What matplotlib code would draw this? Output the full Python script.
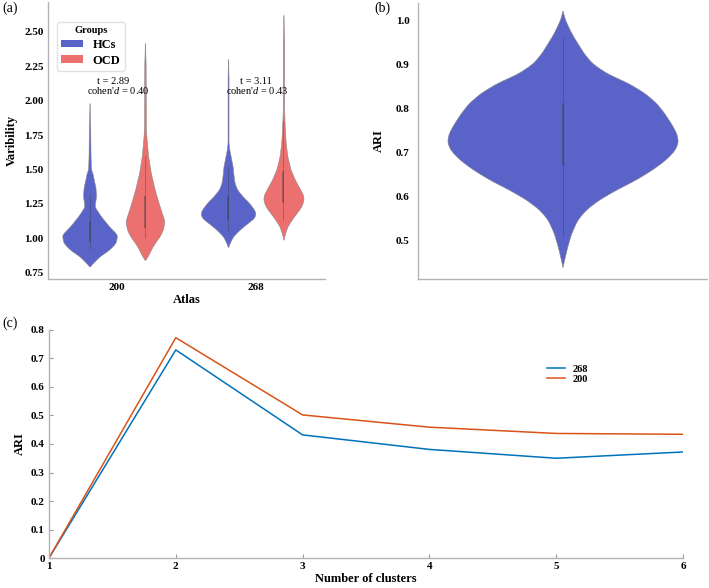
import numpy as np
import matplotlib
matplotlib.use("Agg")
import matplotlib.pyplot as plt
from matplotlib.patches import Patch

plt.rcParams['font.family'] = 'serif'
plt.rcParams['font.serif'] = ['Liberation Serif', 'DejaVu Serif']
plt.rcParams['mathtext.fontset'] = 'custom'
plt.rcParams['mathtext.it'] = 'Liberation Serif:italic'
plt.rcParams['mathtext.rm'] = 'Liberation Serif'

#
# (a) variability violins, profiles
# each violin: y levels and relative density (half width)
#
atlases = ["200", "268"]
groups = ["HCs", "OCD"]

hc200_y = [0.796, 0.820, 0.868, 0.917, 0.966, 1.026, 1.086, 1.159, 1.231, 1.304,
           1.377, 1.401, 1.474, 1.498, 1.600, 1.800, 1.982]
hc200_d = [0, 3.3, 10, 20, 26.7, 28.3, 20, 11.7, 5, 6.7, 6, 5, 3, 1.5, 1, 0.7, 0]

ocd200_y = [0.844, 0.868, 0.917, 0.966, 1.014, 1.062, 1.122, 1.183, 1.256, 1.353,
            1.474, 1.594, 1.716, 1.788, 2.030, 2.273, 2.418]
ocd200_d = [0, 2.7, 6, 10, 15, 18.3, 20, 17.3, 14, 10, 6, 3.3, 1.7, 1, 0.8, 0.7, 0]

hc268_y = [0.937, 0.966, 1.014, 1.062, 1.111, 1.147, 1.183, 1.207, 1.256, 1.304,
           1.353, 1.401, 1.449, 1.522, 1.594, 1.643, 1.692, 2.175, 2.302]
hc268_d = [0, 1.7, 5, 11.7, 20, 26.7, 28.3, 26.7, 21.7, 15, 9.3, 6.7, 5.7, 4.7,
           2.7, 1.3, 0.5, 0.5, 0]

ocd268_y = [0.990, 1.038, 1.086, 1.135, 1.183, 1.231, 1.280, 1.316, 1.353, 1.425,
            1.498, 1.594, 1.692, 1.812, 1.934, 2.418, 2.623]
ocd268_d = [0, 1.7, 4, 8.3, 13.3, 18.3, 20.7, 20, 17.3, 11.7, 7.3, 4, 2.3, 1.3,
            0.7, 0.7, 0]

# whisker low/high, quartile low/high
hc200_box = [0.92, 1.32, 0.98, 1.12]
ocd200_box = [1.00, 1.60, 1.08, 1.30]
hc268_box = [1.05, 1.52, 1.13, 1.30]
ocd268_box = [1.13, 1.85, 1.26, 1.48]

t_values = ["2.89", "3.11"]
d_values = ["0.40", "0.43"]

#
# (b) ARI violin
#
ari_y = [0.441, 0.486, 0.517, 0.547, 0.570, 0.593, 0.615, 0.638, 0.661, 0.683,
         0.706, 0.725, 0.744, 0.767, 0.790, 0.812, 0.835, 0.858, 0.880, 0.903,
         0.926, 0.956, 0.971, 0.985, 1.002, 1.022]
ari_d = [0, 4.7, 8.7, 14.7, 23, 36.3, 53, 73, 89.7, 103, 113, 116.3, 114.7, 109,
         102.3, 94.7, 83, 66.3, 44.7, 29.7, 21.3, 13, 9, 6, 2.5, 0]
ari_box = [0.51, 0.96, 0.672, 0.81]

#
# (c) ARI vs number of clusters
#
n_clusters = [1, 2, 3, 4, 5, 6]
ari_268 = [0, 0.730, 0.432, 0.381, 0.350, 0.372]
ari_200 = [0, 0.773, 0.502, 0.459, 0.437, 0.434]

c_hc = "#5a63c8"
c_ocd = "#ec7070"
spine_c = "#b3b3b3"


def draw_violin(ax, pos, ys, dens, scale, color, box, smooth):
    # resample the read profile and soften the corners a little
    ys = np.asarray(ys)
    grid = np.linspace(ys[0], ys[-1], 600)
    half = np.interp(grid, ys, np.asarray(dens) * scale)
    k = np.exp(-0.5 * (np.arange(-60, 61) * (grid[1] - grid[0]) / smooth) ** 2)
    k /= k.sum()
    half = np.convolve(np.pad(half, 60, mode="constant"), k, mode="same")[60:-60]
    ax.fill_betweenx(grid, pos - half, pos + half, facecolor=color,
                     edgecolor="#8a8a8a", linewidth=0.4, zorder=2)
    ax.plot([pos, pos], box[0:2], color="#3a3a3a", lw=0.5, alpha=0.5, zorder=3)
    ax.plot([pos, pos], box[2:4], color="#3a3a3a", lw=1.2, alpha=0.5, zorder=3)


def style_spines(ax):
    for s in ["top", "right"]:
        ax.spines[s].set_visible(False)
    for s in ["left", "bottom"]:
        ax.spines[s].set_color(spine_c)
        ax.spines[s].set_linewidth(1.0)


fig = plt.figure(figsize=(7.09, 5.88), dpi=100)

# ---------------- (a)
ax_a = fig.add_axes([0.0677, 0.5255, 0.3907, 0.471])
sc_a = 0.2 / 28.3
violins = [(hc200_y, hc200_d, hc200_box), (ocd200_y, ocd200_d, ocd200_box),
           (hc268_y, hc268_d, hc268_box), (ocd268_y, ocd268_d, ocd268_box)]
for i, (ys, ds, bx) in enumerate(violins):
    cat = i // 2
    off = -0.2 if i % 2 == 0 else 0.2
    col = c_hc if i % 2 == 0 else c_ocd
    draw_violin(ax_a, cat + off, ys, ds, sc_a, col, bx, 0.012)

for k in range(len(atlases)):
    ax_a.text(k - 0.03 + 0.03 * k, 2.137, "t = " + t_values[k], ha="center",
              va="center", fontsize=7.5, zorder=4)
    ax_a.text(k + 0.01, 2.072, "cohen'$d$ = " + d_values[k], ha="center",
              va="center", fontsize=7.5, zorder=4)

ax_a.set_xlim(-0.5, 1.5)
ax_a.set_ylim(0.704, 2.716)
ax_a.set_xticks(range(len(atlases)))
ax_a.set_xticklabels(atlases)
ax_a.set_yticks([0.75, 1.0, 1.25, 1.5, 1.75, 2.0, 2.25, 2.5])
ax_a.set_yticklabels(["%.2f" % v for v in ax_a.get_yticks()])
ax_a.tick_params(length=0, labelsize=8, pad=3)
for lab in ax_a.get_xticklabels() + ax_a.get_yticklabels():
    lab.set_fontweight("bold")
ax_a.set_xlabel("Atlas", fontsize=9, fontweight="bold", labelpad=1)
ax_a.set_ylabel("Varibility", fontsize=9, fontweight="bold", labelpad=5)
style_spines(ax_a)
handles = [Patch(facecolor=c_hc, edgecolor="none", label=groups[0]),
           Patch(facecolor=c_ocd, edgecolor="none", label=groups[1])]
leg = ax_a.legend(handles=handles, title="Groups", loc="upper left",
                  bbox_to_anchor=(0.031, 0.929), borderaxespad=0,
                  title_fontsize=7.5, handlelength=1.8, handleheight=0.55,
                  handletextpad=0.75, borderpad=0.35, labelspacing=0.3,
                  framealpha=1, edgecolor="#e2e2e2",
                  prop={"weight": "bold", "size": 9})
leg.get_title().set_fontweight("bold")

# ---------------- (b)
ax_b = fig.add_axes([0.5896, 0.5255, 0.4076, 0.4695])
draw_violin(ax_b, 0, ari_y, ari_d, 0.4 / 116.3, c_hc, ari_box, 0.006)
ax_b.set_xlim(-0.5, 0.5)
ax_b.set_ylim(0.413, 1.040)
ax_b.set_xticks([])
ax_b.set_yticks([0.5, 0.6, 0.7, 0.8, 0.9, 1.0])
ax_b.set_yticklabels(["%.1f" % v for v in ax_b.get_yticks()])
ax_b.tick_params(length=0, labelsize=8, pad=6)
for lab in ax_b.get_yticklabels():
    lab.set_fontweight("bold")
ax_b.set_ylabel("ARI", fontsize=9, fontweight="bold", labelpad=8)
style_spines(ax_b)

# ---------------- (c)
ax_c = fig.add_axes([0.0691, 0.051, 0.8942, 0.3878])
ax_c.plot(n_clusters, ari_268, color="#0072BD", lw=1.1, label="268")
ax_c.plot(n_clusters, ari_200, color="#D95319", lw=1.1, label="200")
ax_c.set_xlim(1, 6)
ax_c.set_ylim(0, 0.8)
ax_c.set_xticks(n_clusters)
ax_c.set_yticks(np.arange(0, 0.81, 0.1))
ax_c.set_yticklabels(["0"] + ["%.1f" % v for v in np.arange(0.1, 0.81, 0.1)])
ax_c.tick_params(direction="in", length=3, width=0.8, color="#999999",
                 labelsize=8, pad=3)
for lab in ax_c.get_xticklabels() + ax_c.get_yticklabels():
    lab.set_fontweight("bold")
ax_c.set_xlabel("Number of clusters", fontsize=9, fontweight="bold", labelpad=1)
ax_c.set_ylabel("ARI", fontsize=9, fontweight="bold", labelpad=4)
style_spines(ax_c)
ax_c.legend(loc="upper left", bbox_to_anchor=(0.77, 0.89), frameon=False,
            handlelength=1.8, handletextpad=0.7, labelspacing=0.1,
            prop={"weight": "bold", "size": 7.5})

# panel letters
fig.text(0.003, 0.986, "(a)", fontsize=10, va="center")
fig.text(0.528, 0.986, "(b)", fontsize=10, va="center")
fig.text(0.003, 0.451, "(c)", fontsize=10, va="center")

fig.savefig("out.png", dpi=100)
